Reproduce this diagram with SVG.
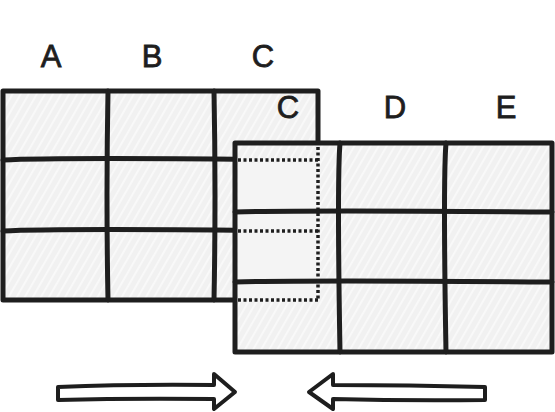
<svg xmlns="http://www.w3.org/2000/svg" width="555" height="412" viewBox="0 0 555 412">
<defs>
<pattern id="hatch" width="7" height="7" patternUnits="userSpaceOnUse" patternTransform="rotate(30)">
<rect width="7" height="7" fill="#f1f1f1"/>
<line x1="2" y1="0" x2="2" y2="7" stroke="#fbfbfb" stroke-width="1.6"/>
</pattern>
<style>
.ln{stroke:#1e1e1e;stroke-width:5;fill:none;stroke-linecap:round;stroke-linejoin:round}
.bd{stroke:#1e1e1e;stroke-width:5;fill:url(#hatch);stroke-linejoin:round}
.ds{stroke:#1e1e1e;stroke-width:3.5;stroke-dasharray:3 2.5;fill:none}
.lb{font-family:"Liberation Sans",sans-serif;font-size:31px;fill:#1e1e1e;stroke:#1e1e1e;stroke-width:0.8;text-anchor:middle}
.ar{stroke:#1e1e1e;stroke-width:4;fill:#ffffff;stroke-linejoin:round}
</style>
</defs>
<rect width="555" height="412" fill="#ffffff"/>

<g id="grid-left">
<rect class="bd" x="3" y="91" width="315" height="209"/>
<path class="ln" d="M108 91 Q106 196 108 300"/>
<path class="ln" d="M214 91 Q216 196 214 300"/>
<path class="ln" d="M3 160 Q60 157 318 160"/>
<path class="ln" d="M3 231 Q60 228 318 231"/>
<text class="lb" x="51" y="67">A</text>
<text class="lb" x="152" y="67">B</text>
<text class="lb" x="263" y="67">C</text>
</g>

<g id="grid-right">
<rect class="bd" x="235" y="143" width="317" height="209"/>
<rect x="238" y="163" width="79" height="136" fill="#f4f4f4"/>
<path class="ln" d="M340 143 Q337 180 340 352"/>
<path class="ln" d="M446 143 Q443 180 446 352"/>
<path class="ln" d="M235 212 Q300 210 552 212"/>
<path class="ln" d="M235 282 Q300 280 552 282"/>
<text class="lb" x="288" y="118">C</text>
<text class="lb" x="395" y="118">D</text>
<text class="lb" x="506" y="118">E</text>
</g>

<g id="overlap-hidden-lines">
<line class="ds" x1="318" y1="147" x2="318" y2="300"/>
<line class="ds" x1="238" y1="160" x2="318" y2="160"/>
<line class="ds" x1="238" y1="231" x2="318" y2="231"/>
<line class="ds" x1="238" y1="300" x2="318" y2="300"/>
</g>

<g id="arrow-right">
<path class="ar" d="M58 387 Q130 384 214 385 L214 374 L235 392 L214 409 L214 399 Q130 398 58 400 Z"/>
</g>

<g id="arrow-left">
<path class="ar" d="M485 387 Q410 385 333 385 L333 374 L309 392 L333 409 L333 399 Q410 401 485 400 Z"/>
</g>
</svg>
